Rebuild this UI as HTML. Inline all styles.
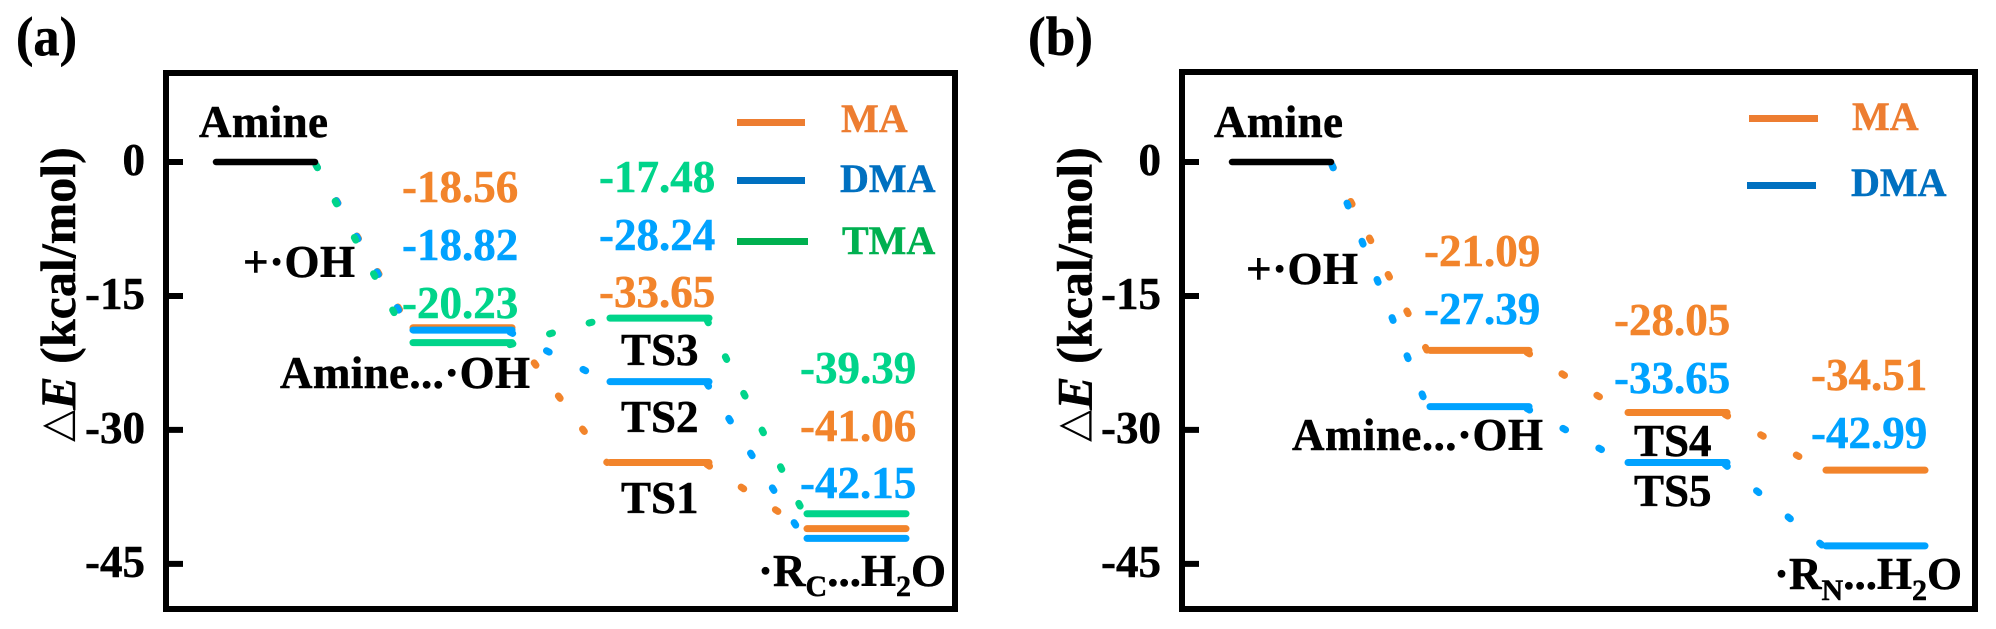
<!DOCTYPE html>
<html lang="en">
<head>
<meta charset="utf-8">
<title>Energy profiles of amine + OH reactions</title>
<style>
html,body{margin:0;padding:0;background:#fff;}
svg{display:block;}
text{font-family:"Liberation Serif","DejaVu Serif",serif;font-weight:bold;font-size:45px;color:#000;fill:currentColor;stroke:currentColor;stroke-width:.5px;}
.or{color:#F2842B;}
.bl{color:#00A2FF;}
.gr{color:#00D48A;}
.lo{color:#ED7D31;font-size:40px;}
.lb{color:#0070C0;font-size:40px;}
.lg{color:#00B050;font-size:40px;}
.title{font-size:50px;}
.tri{font-family:"DejaVu Sans",sans-serif;font-weight:normal;font-size:42px;stroke-width:0;}
.sub{font-size:30px;}
.panel{font-size:55px;}
</style>
</head>
<body>
<svg id="chart" width="1996" height="629" viewBox="0 0 1996 629" xmlns="http://www.w3.org/2000/svg">
  <rect x="0" y="0" width="1996" height="629" fill="#fff"/>

  <!-- Panel (a) -->
  <text class="panel" x="16" y="55" textLength="61" lengthAdjust="spacingAndGlyphs">(a)</text>
  <g id="panel-a"></g>
  <rect x="166" y="73" width="789" height="536" fill="none" stroke="#000" stroke-width="6"/>
  <text class="title" transform="translate(75,442) rotate(-90)"><tspan class="tri" dy="-5">△</tspan><tspan font-style="italic" dy="5">E</tspan> (kcal/mol)</text>

  <text x="199" y="137" textLength="129">Amine</text>
  <text x="243" y="277" textLength="112">+·OH</text>
  <text x="280" y="388" textLength="250">Amine...·OH</text>
  <text x="621" y="365">TS3</text>
  <text x="621" y="432">TS2</text>
  <text x="621" y="513">TS1</text>
  <text x="758" y="586">·R<tspan class="sub" dy="10">C</tspan><tspan dy="-10">...H</tspan><tspan class="sub" dy="10">2</tspan><tspan dy="-10">O</tspan></text>

  <text class="or" x="402" y="202">-18.56</text>
  <text class="bl" x="402" y="260">-18.82</text>
  <text class="gr" x="402" y="318">-20.23</text>
  <text class="gr" x="599" y="192">-17.48</text>
  <text class="bl" x="599" y="250">-28.24</text>
  <text class="or" x="599" y="307">-33.65</text>
  <text class="gr" x="800" y="383">-39.39</text>
  <text class="or" x="800" y="441">-41.06</text>
  <text class="bl" x="800" y="498">-42.15</text>

  <g>
    <line x1="737" x2="805" y1="122.5" y2="122.5" stroke="#ED7D31" stroke-width="7"/>
    <line x1="737" x2="805" y1="180.5" y2="180.5" stroke="#0070C0" stroke-width="7"/>
    <line x1="737" x2="808" y1="241.5" y2="241.5" stroke="#00B050" stroke-width="7"/>
    <text class="lo" x="841" y="132">MA</text>
    <text class="lb" x="840" y="192">DMA</text>
    <text class="lg" x="842" y="254">TMA</text>
  </g>

  <!-- Panel (b) -->
  <text class="panel" x="1028" y="55" textLength="65" lengthAdjust="spacingAndGlyphs">(b)</text>
  <g id="panel-b"></g>
  <rect x="1182" y="72" width="793" height="537" fill="none" stroke="#000" stroke-width="6"/>
  <text class="title" transform="translate(1091.5,442) rotate(-90)"><tspan class="tri" dy="-5">△</tspan><tspan font-style="italic" dy="5">E</tspan> (kcal/mol)</text>

  <text x="1214" y="137" textLength="129">Amine</text>
  <text x="1246" y="284" textLength="112">+·OH</text>
  <text x="1292" y="450" textLength="251">Amine...·OH</text>
  <text x="1634" y="456">TS4</text>
  <text x="1634" y="506">TS5</text>
  <text x="1774" y="589">·R<tspan class="sub" dy="11">N</tspan><tspan dy="-11">...H</tspan><tspan class="sub" dy="11">2</tspan><tspan dy="-11">O</tspan></text>

  <text class="or" x="1424" y="266">-21.09</text>
  <text class="bl" x="1424" y="324">-27.39</text>
  <text class="or" x="1614" y="335">-28.05</text>
  <text class="bl" x="1614" y="393">-33.65</text>
  <text class="or" x="1811" y="390">-34.51</text>
  <text class="bl" x="1811" y="448">-42.99</text>

  <g>
    <line x1="1749" x2="1818" y1="118.5" y2="118.5" stroke="#ED7D31" stroke-width="7"/>
    <line x1="1747" x2="1816" y1="185.5" y2="185.5" stroke="#0070C0" stroke-width="7"/>
    <text class="lo" x="1852" y="130">MA</text>
    <text class="lb" x="1851" y="196">DMA</text>
  </g>
</svg>

<script>
// Chart data
const stages = ['amine', 'complex', 'ts', 'product'];
const yTicks = [0, -15, -30, -45];
const yTickLabels = ['0', '-15', '-30', '-45'];
const seriesNamesA = ['ma', 'dma', 'tma'];
const maA = [0, -18.56, -33.65, -41.06];
const dmaA = [0, -18.82, -24.6, -42.15];
const tmaA = [0, -20.23, -17.48, -39.39];
const seriesNamesB = ['ma', 'dma'];
const maB = [0, -21.09, -28.05, -34.51];
const dmaB = [0, -27.39, -33.65, -42.99];

const SVG_NS = 'http://www.w3.org/2000/svg';
const colourOf = { ma: '#F2842B', dma: '#00A2FF', tma: '#00D48A' };

function yScale(v) {
  return 162 - v * 8.93;
}
function xScaleA(i) {
  return 213 + 197 * i;
}
function xScaleB(i) {
  return 1229 + 198 * i;
}

function drawPanel(panelId, xScale, levelWidth, spineX, labelRight, names, seriesList) {
  const root = document.getElementById(panelId);

  yTicks.forEach(function (t, k) {
    const tick = document.createElementNS(SVG_NS, 'line');
    
    
    tick.setAttribute('x1', spineX);
    tick.setAttribute('x2', spineX + 17);
    tick.setAttribute('y1', yScale(t));
    tick.setAttribute('y2', yScale(t));
    tick.setAttribute('stroke', '#000');
    tick.setAttribute('stroke-width', 6);
    root.appendChild(tick);

    const label = document.createElementNS(SVG_NS, 'text');
    
    
    label.setAttribute('x', labelRight);
    label.setAttribute('y', yScale(t) + 13);
    label.setAttribute('text-anchor', 'end');
    label.textContent = yTickLabels[k];
    root.appendChild(label);
  });

  // Dotted connectors between successive levels
  seriesList.forEach(function (values, s) {
    for (let i = 0; i < stages.length - 1; i++) {
      const startX = xScale(i) + levelWidth - (i === 0 ? 2 : 5);
      const startY = yScale(values[i]) + (i === 0 ? 3 : 2);
      const conn = document.createElementNS(SVG_NS, 'line');
      
      
      conn.setAttribute('x1', startX);
      conn.setAttribute('y1', startY);
      conn.setAttribute('x2', xScale(i + 1));
      conn.setAttribute('y2', yScale(values[i + 1]));
      conn.setAttribute('stroke', colourOf[names[s]]);
      conn.setAttribute('stroke-width', 7);
      conn.setAttribute('stroke-linecap', 'round');
      conn.setAttribute('stroke-dasharray', '3 38');
      root.appendChild(conn);
    }
  });

  // Energy levels after amine
  seriesList.forEach(function (values, s) {
    for (let i = 1; i < stages.length; i++) {
      const level = document.createElementNS(SVG_NS, 'line');
      
      
      level.setAttribute('x1', xScale(i) + 3);
      level.setAttribute('x2', xScale(i) + levelWidth - 3);
      level.setAttribute('y1', yScale(values[i]));
      level.setAttribute('y2', yScale(values[i]));
      level.setAttribute('stroke', colourOf[names[s]]);
      level.setAttribute('stroke-width', 7);
      level.setAttribute('stroke-linecap', 'round');
      root.appendChild(level);
    }
  });

  // Shared amine reference level
  const amine = document.createElementNS(SVG_NS, 'line');
  
  
  amine.setAttribute('x1', xScale(0) + 3);
  amine.setAttribute('x2', xScale(0) + levelWidth - 3);
  amine.setAttribute('y1', yScale(seriesList[0][0]));
  amine.setAttribute('y2', yScale(seriesList[0][0]));
  amine.setAttribute('stroke', '#000');
  amine.setAttribute('stroke-width', 6.5);
  amine.setAttribute('stroke-linecap', 'round');
  root.appendChild(amine);
}

drawPanel('panel-a', xScaleA, 105, 166, 145, seriesNamesA, [maA, dmaA, tmaA]);
drawPanel('panel-b', xScaleB, 105, 1182, 1161, seriesNamesB, [maB, dmaB]);
</script>
</body>
</html>
